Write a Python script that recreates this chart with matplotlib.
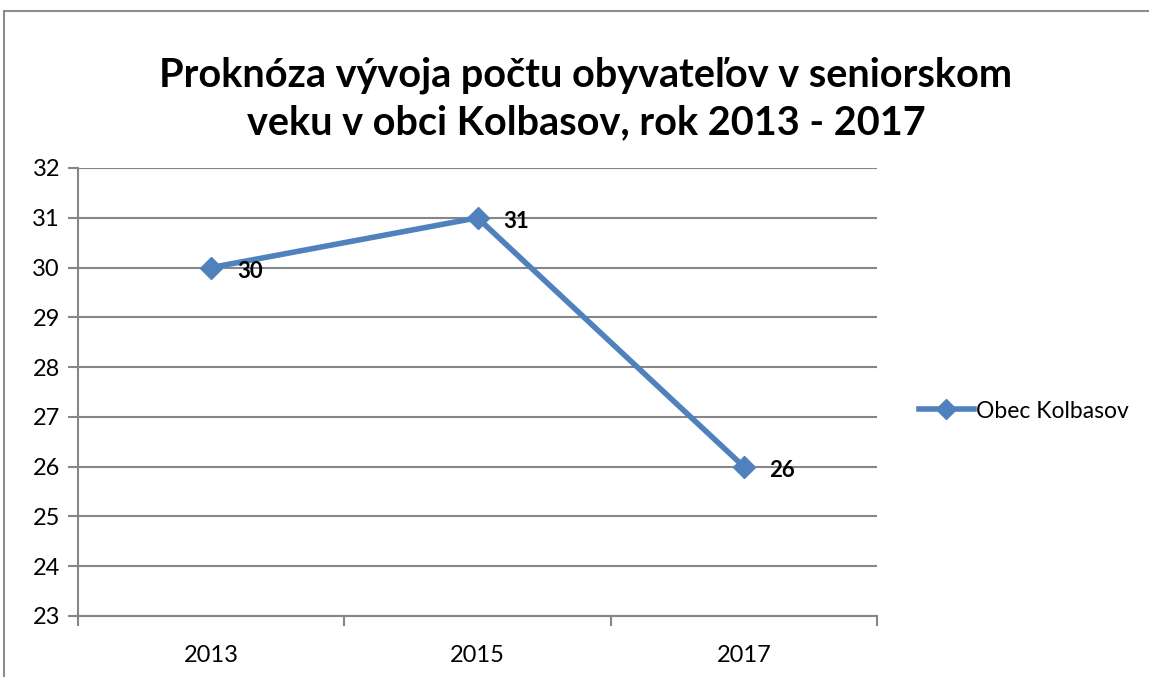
import matplotlib.pyplot as plt
from matplotlib.lines import Line2D
from matplotlib.patches import Rectangle

# chart data
years = ['2013', '2015', '2017']
seniors = [30, 31, 26]
series_name = 'Obec Kolbasov'
title = 'Proknóza vývoja počtu obyvateľov v seniorskom\nveku v obci Kolbasov, rok 2013 - 2017'

W, H = 1149, 677
blue = '#4F81BD'
grid = '#868686'
font = ['Lato', 'DejaVu Sans']

plt.rcParams['font.family'] = font
fig = plt.figure(figsize=(W / 100, H / 100), dpi=100)

# outer chart frame (runs off the right and bottom of the screenshot)
fig.patches.append(Rectangle((4 / W, -0.1), 1.2, 1 - 11 / H + 0.1, transform=fig.transFigure,
                             fill=False, edgecolor='#8c8c8c', linewidth=1.5))

ax = fig.add_axes([78 / W, 1 - 616 / H, (877 - 78) / W, (616 - 168) / H])
x = list(range(len(years)))
ax.plot(x, seniors, color=blue, linewidth=4, marker='D', markersize=11, zorder=3)
for xi, v in zip(x, seniors):
    ax.annotate(str(v), (xi, v), xytext=(18.5, -2.5), textcoords='offset points',
                fontsize=16, fontweight='bold', va='center', ha='left')

ax.set_xlim(-0.5, 2.5)
ax.set_ylim(23, 32)
ax.set_yticks(range(23, 33))
ax.yaxis.grid(True, color=grid, linewidth=1.5)
ax.set_axisbelow(True)
ax.set_xticks(x)
ax.set_xticklabels(years)
ax.set_xticks([-0.5, 0.5, 1.5, 2.5], minor=True)
ax.tick_params(axis='x', which='major', length=0, pad=21, labelsize=17)
ax.tick_params(axis='x', which='minor', length=7, width=1.5, color=grid)
ax.tick_params(axis='y', length=7, width=1.5, color=grid, labelsize=17, pad=6)
for s in ['top', 'right']:
    ax.spines[s].set_visible(False)
for s in ['left', 'bottom']:
    ax.spines[s].set_color(grid)
    ax.spines[s].set_linewidth(1.5)

handle = Line2D([], [], color=blue, linewidth=4, marker='D', markersize=10)
fig.legend([handle], [series_name], loc='center left', bbox_to_anchor=(898 / W, 1 - 411 / H),
           frameon=False, fontsize=16.5, handlelength=2.4, handletextpad=0.1)

fig.text(586 / W, 1 - 99 / H, title, ha='center', va='center', fontsize=28.5,
         fontweight='bold', linespacing=1.35)

fig.savefig('out.png', dpi=100)
